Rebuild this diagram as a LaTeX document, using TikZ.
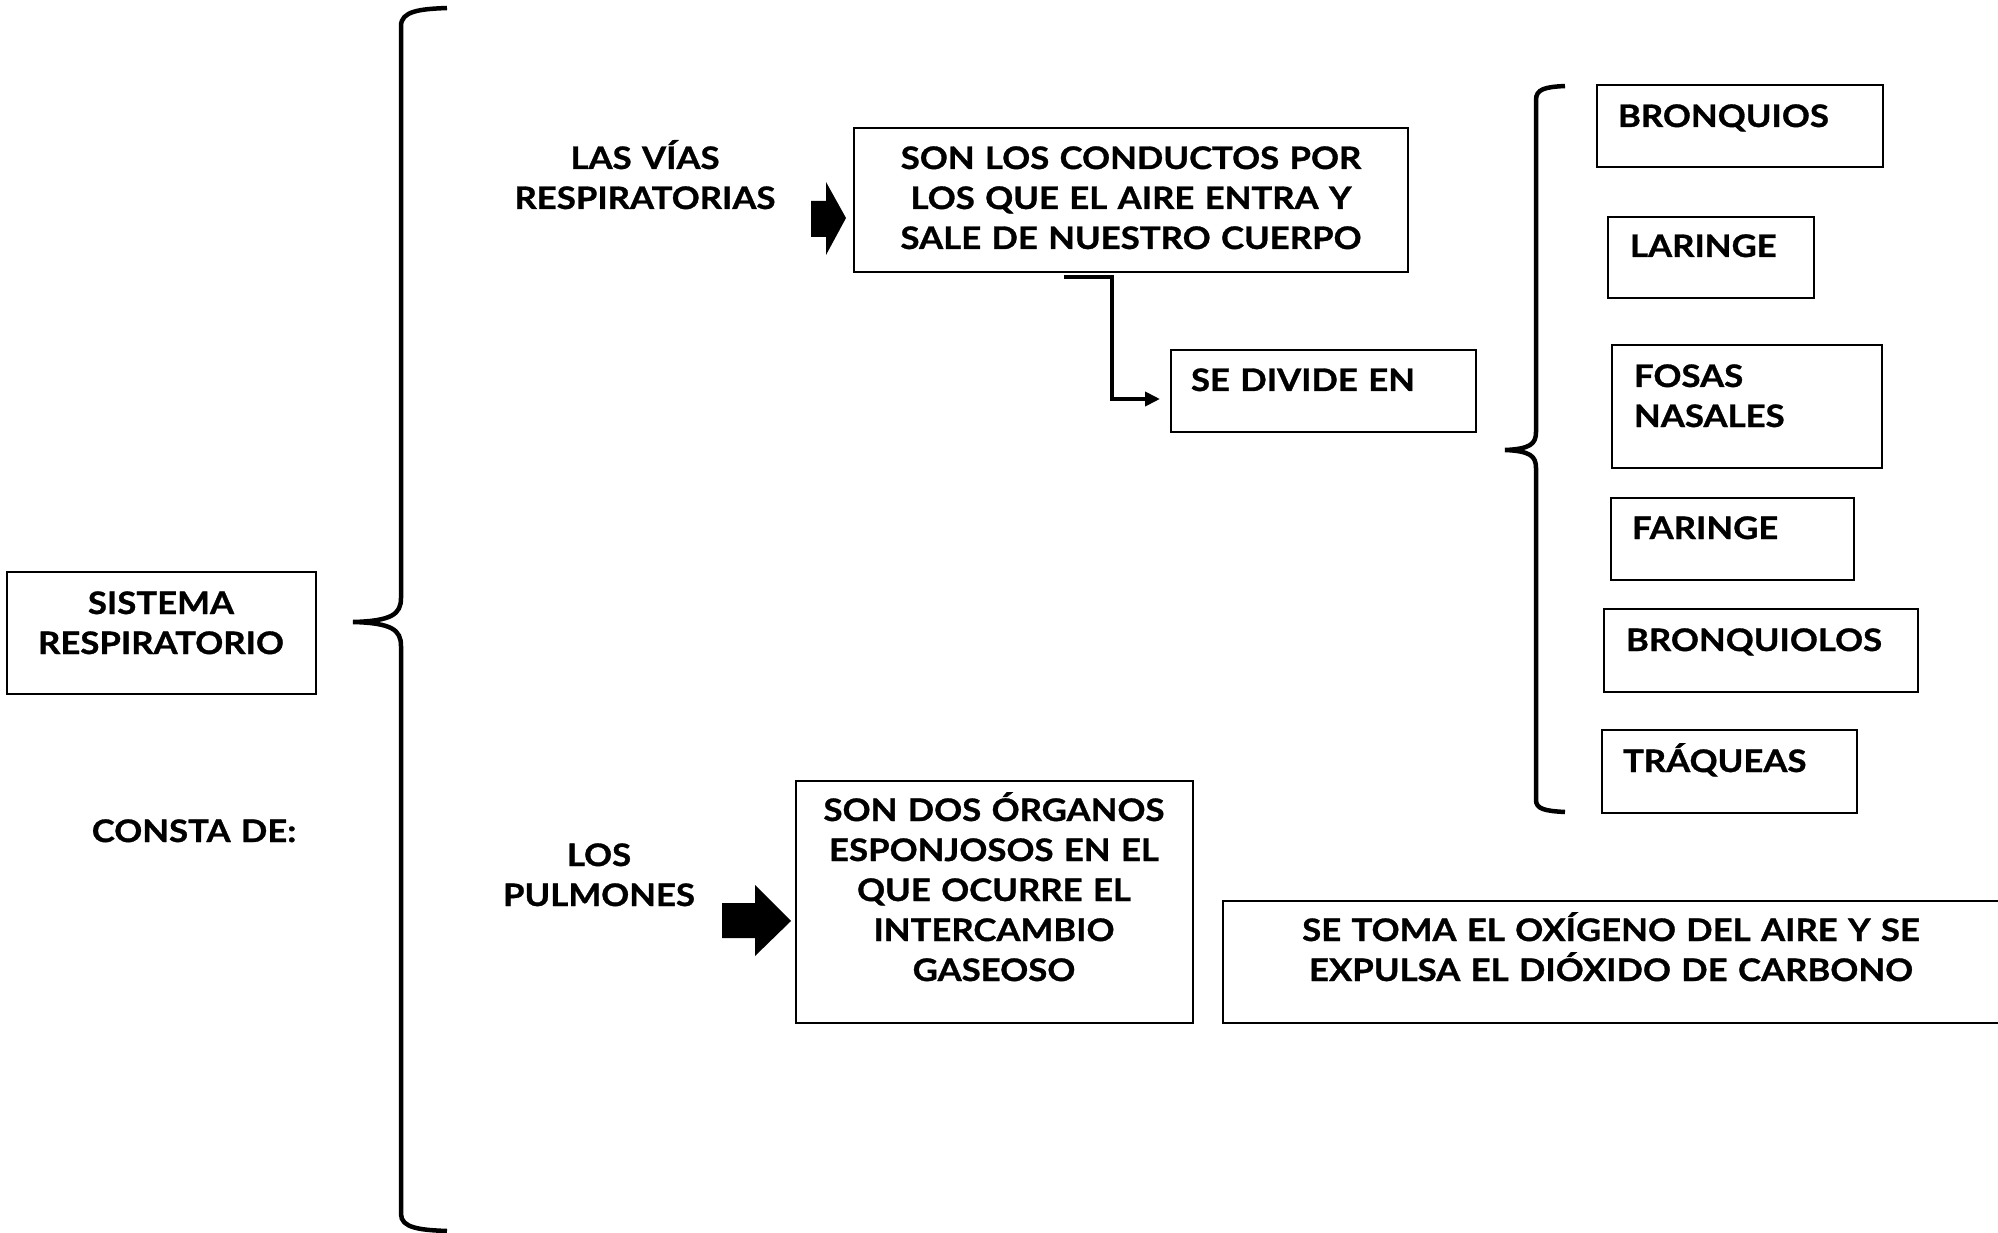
\documentclass[tikz,border=0pt]{standalone}
\usepackage{fontspec}
\setmainfont{Lato}[BoldFeatures={FakeStretch=1.12, FakeBold=1.0}]
\usetikzlibrary{arrows.meta}
\newcommand{\txtfont}{\fontsize{31}{40}\selectfont\bfseries}
\begin{document}
\begin{tikzpicture}[x=1pt,y=-1pt,
  every node/.style={inner sep=0pt, outer sep=0pt},
  box/.style={draw, line width=2pt, anchor=north west, rectangle},
  ctext/.style={font=\txtfont, text width=700pt, align=center, anchor=base},
  ltext/.style={font=\txtfont, text width=400pt, align=left, anchor=base west},
  brace/.style={line width=4.5pt, line cap=butt, line join=miter},
  conn/.style={line width=4pt, -{Triangle[length=15pt,width=14pt]}},
  blockarrow/.style={fill=black, draw=none}]
\useasboundingbox (0,0) rectangle (1998,1233);
\clip (0,0) rectangle (1998,1233);
\fill[white] (0,0) rectangle (1998,1233);

% boxes
\node[box, minimum width=309pt, minimum height=122pt] (sis) at (7,572) {};
\node[box, minimum width=554pt, minimum height=144pt] (vb) at (854,128) {};
\node[box, minimum width=305pt, minimum height=82pt] (div) at (1171,350) {};
\node[box, minimum width=286pt, minimum height=82pt] (bron) at (1597,85) {};
\node[box, minimum width=206pt, minimum height=81pt] (lar) at (1608,217) {};
\node[box, minimum width=270pt, minimum height=123pt] (fos) at (1612,345) {};
\node[box, minimum width=243pt, minimum height=82pt] (far) at (1611,498) {};
\node[box, minimum width=314pt, minimum height=83pt] (brol) at (1604,609) {};
\node[box, minimum width=255pt, minimum height=83pt] (traq) at (1602,730) {};
\node[box, minimum width=397pt, minimum height=242pt] (pb) at (796,781) {};
\node[box, minimum width=800pt, minimum height=122pt] (fin) at (1223,901) {};

% texts
\node[ctext] (sist) at (161,614) {SISTEMA\\RESPIRATORIO};
\node[ctext] (consta) at (194,842) {CONSTA DE:};
\node[ctext] (vias) at (645,169) {LAS VÍAS\\RESPIRATORIAS};
\node[ctext] (vbt) at (1131,169) {SON LOS CONDUCTOS POR\\LOS QUE EL AIRE ENTRA Y\\SALE DE NUESTRO CUERPO};
\node[ltext] (divt) at (1191,391) {SE DIVIDE EN};
\node[ltext] (bront) at (1618,127) {BRONQUIOS};
\node[ltext] (lart) at (1630,257) {LARINGE};
\node[ltext] (fost) at (1634,387) {FOSAS\\NASALES};
\node[ltext] (fart) at (1632,539) {FARINGE};
\node[ltext] (brolt) at (1626,651) {BRONQUIOLOS};
\node[ltext] (traqt) at (1623,772) {TRÁQUEAS};
\node[ctext] (los) at (599,866) {LOS\\PULMONES};
\node[ctext] (pbt) at (994,821) {SON DOS ÓRGANOS\\ESPONJOSOS EN EL\\QUE OCURRE EL\\INTERCAMBIO\\GASEOSO};
\node[ctext] (fint) at (1611,941) {SE TOMA EL OXÍGENO DEL AIRE Y SE\\EXPULSA EL DIÓXIDO DE CARBONO};

% big brace
\draw[brace] (447,8) .. controls (420,9) and (401,11) .. (401,26)
  -- (401,598) .. controls (401,614) and (392,621) .. (353,622)
  .. controls (392,623) and (401,630) .. (401,646)
  -- (401,1214) .. controls (401,1228) and (420,1230) .. (447,1231);

% small brace
\draw[brace] (1565,86) .. controls (1545,87) and (1536,89) .. (1536,100)
  -- (1536,432) .. controls (1536,444) and (1530,449) .. (1505,450)
  .. controls (1530,451) and (1536,456) .. (1536,468)
  -- (1536,800) .. controls (1536,809) and (1545,811) .. (1565,812);

% block arrows
\fill[blockarrow] (811,201) -- (826,201) -- (826,182) -- (846,218) -- (826,255) -- (826,237) -- (811,237) -- cycle;
\fill[blockarrow] (722,903) -- (755,903) -- (755,885) -- (791,921) -- (755,956) -- (755,938) -- (722,938) -- cycle;

% connector
\coordinate (c0) at (1064,277);
\coordinate (cb) at (1112,277);
\coordinate (c1) at (1160,399);
\draw[conn] (c0) -- (cb) |- (c1);
\end{tikzpicture}
\end{document}
